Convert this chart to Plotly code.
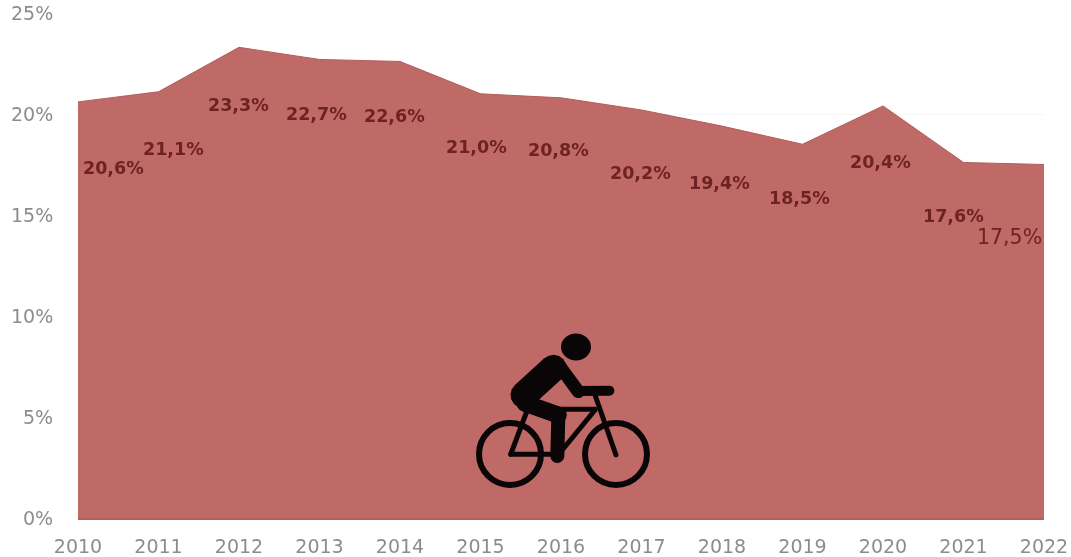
import numpy as np
import plotly.graph_objects as go

years = [2010, 2011, 2012, 2013, 2014, 2015, 2016, 2017, 2018, 2019, 2020, 2021, 2022]
values = [20.6, 21.1, 23.3, 22.7, 22.6, 21.0, 20.8, 20.2, 19.4, 18.5, 20.4, 17.6, 17.5]
labels = ["20,6%", "21,1%", "23,3%", "22,7%", "22,6%", "21,0%", "20,8%", "20,2%", "19,4%", "18,5%", "20,4%", "17,6%", "17,5%"]
y_ticks = [0, 5, 10, 15, 20, 25]

# label placement relative to each data point, in pixels (right, up)
label_dx = [35, 15, -1, -3, -6, -4, -3, -1, -3, -3, -3, -10, -35]
label_dy = [-66, -57, -58, -55, -55, -53, -52, -63, -57, -54, -56, -54, -72]

W, H = 1071, 557
L, R, T, B = 78, 1044, 13, 518
FILL = "#BF6A67"
EDGE = "#B25C5A"
LABEL = "#6E2224"
TICK = "#8C8C8C"
ICON = "#0A0506"

def px(x):
    return (x - L) / (R - L)

def py(y):
    return (B - y) / (B - T)

def circle(cx, cy, rx, ry=None, line=0, fill=ICON):
    ry = rx if ry is None else ry
    return dict(type="circle", xref="paper", yref="paper",
                x0=px(cx - rx), x1=px(cx + rx), y0=py(cy + ry), y1=py(cy - ry),
                fillcolor=fill, line=dict(color=ICON, width=line), layer="above")

def capsule(x0, y0, x1, y1, width):
    a = np.arctan2(y1 - y0, x1 - x0)
    r = width / 2
    t = np.linspace(-np.pi / 2, np.pi / 2, 9)
    pts = [(x1 + r * np.cos(a + s), y1 + r * np.sin(a + s)) for s in t]
    pts += [(x0 - r * np.cos(a + s), y0 - r * np.sin(a + s)) for s in t]
    d = "M " + " L ".join(f"{px(x):.5f} {py(y):.5f}" for x, y in pts) + " Z"
    return dict(type="path", path=d, xref="paper", yref="paper",
                fillcolor=ICON, line=dict(width=0), layer="above")

# zoom-crop coordinates of the cyclist pictogram, mapped to page pixels
def z(x, y):
    return 450 + x / 3, 320 + y / 3

segments = [
    ((222, 225), (310, 145), 27),   # torso
    ((330, 140), (385, 215), 13),   # upper arm
    ((382, 213), (478, 212), 10),   # forearm
    ((225, 250), (325, 285), 17),   # thigh
    ((325, 285), (322, 408), 14),   # shin
    ((232, 270), (182, 403), 5),    # seat tube
    ((182, 403), (322, 403), 5),    # chain stay
    ((322, 408), (435, 270), 5),    # down tube
    ((300, 268), (435, 268), 5),    # top tube
    ((435, 225), (498, 405), 5),    # fork
]
shapes = [circle(510, 454, 31, line=6, fill="rgba(0,0,0,0)"),
          circle(616, 454, 31, line=6, fill="rgba(0,0,0,0)"),
          circle(576, 347, 15, 13.5)]
for a, b, w in segments:
    shapes.append(capsule(*z(*a), *z(*b), w))

fig = go.Figure(go.Scatter(
    x=years, y=values, mode="lines", fill="tozeroy", fillcolor=FILL,
    line=dict(color=EDGE, width=1), hoverinfo="skip", showlegend=False,
))

annotations = []
for i, (yr, v, t) in enumerate(zip(years, values, labels)):
    annotations.append(dict(
        x=yr, y=v, text=t, showarrow=False,
        xshift=label_dx[i], yshift=label_dy[i],
        font=dict(family="DejaVu Sans", size=20.5 if yr == 2022 else 17.5, color=LABEL, weight="bold" if yr != 2022 else "normal"),
    ))

fig.update_layout(
    width=W, height=H, autosize=False,
    margin=dict(l=L, r=W - R, t=T, b=H - B, autoexpand=False),
    paper_bgcolor="white", plot_bgcolor="white",
    showlegend=False, shapes=shapes, annotations=annotations,
    xaxis=dict(range=[2010, 2022], tickmode="array", tickvals=years, automargin=False,
               ticktext=[str(y) for y in years], showgrid=False, zeroline=False,
               showline=True, linecolor="#B25F5D", linewidth=2,
               ticks="outside", ticklen=10, tickcolor="rgba(0,0,0,0)",
               tickfont=dict(family="DejaVu Sans", size=19, color=TICK), tickangle=0),
    yaxis=dict(range=[0, 25], tickmode="array", tickvals=y_ticks, automargin=False,
               ticktext=[f"{v}%" for v in y_ticks], showgrid=True,
               gridcolor="#F6F6F6", gridwidth=1, zeroline=False, showline=False,
               ticks="outside", ticklen=20, tickcolor="rgba(0,0,0,0)",
               tickfont=dict(family="DejaVu Sans", size=19, color=TICK)),
)

fig.write_html("out.html", config=dict(displayModeBar=False),
               post_script="document.body.style.margin='0';"
               "document.querySelector('.plotly-graph-div').style.filter='blur(0.7px)';")
